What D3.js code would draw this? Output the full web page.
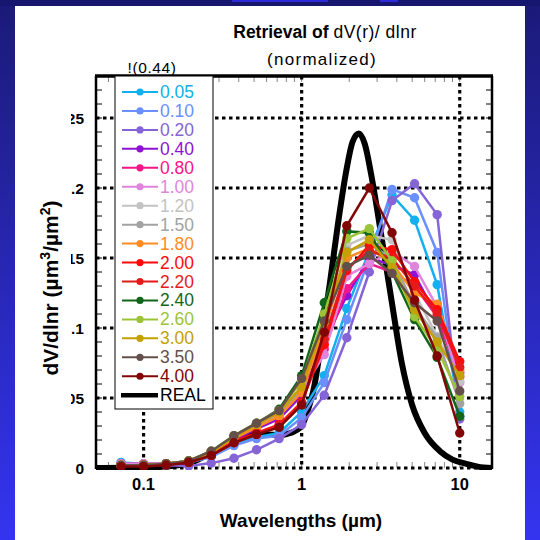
<!DOCTYPE html>
<html><head><meta charset="utf-8">
<script src="https://cdn.jsdelivr.net/npm/d3@7/dist/d3.min.js"></script>
<style>body{margin:0;background:#fff}svg{display:block}</style>
</head><body>
<svg id="chart" width="540" height="540"></svg>
<script>
// ---------- data ----------
const radii = [0.072, 0.1, 0.139, 0.193, 0.268, 0.373, 0.518, 0.72, 1, 1.39, 1.93, 2.68, 3.73, 5.18, 7.2, 10];
const seriesLabels = ["0.05","0.10","0.20","0.40","0.80","1.00","1.20","1.50","1.80","2.00","2.20","2.40","2.60","3.00","3.50","4.00"];
const v005 = [0.004,0.003,0.003,0.004,0.008,0.017,0.022,0.025,0.040,0.066,0.114,0.155,0.195,0.177,0.131,0.040];
const v010 = [0.003,0.003,0.003,0.004,0.008,0.016,0.021,0.023,0.036,0.061,0.106,0.150,0.199,0.193,0.154,0.037];
const v020 = [0.002,0.002,0.002,0.0015,0.0035,0.007,0.013,0.021,0.031,0.052,0.093,0.140,0.191,0.203,0.181,0.035];
const v040 = [0.003,0.002,0.003,0.004,0.010,0.020,0.028,0.035,0.052,0.091,0.123,0.150,0.145,0.138,0.108,0.068];
const v080 = [0.003,0.003,0.003,0.005,0.011,0.022,0.031,0.040,0.056,0.085,0.128,0.146,0.140,0.130,0.108,0.065];
const v100 = [0.003,0.003,0.003,0.005,0.011,0.022,0.031,0.039,0.055,0.081,0.137,0.146,0.155,0.144,0.115,0.061];
const v120 = [0.002,0.002,0.003,0.005,0.011,0.022,0.031,0.039,0.058,0.098,0.159,0.166,0.163,0.125,0.094,0.062];
const v150 = [0.002,0.002,0.003,0.005,0.011,0.022,0.031,0.039,0.057,0.097,0.155,0.160,0.150,0.115,0.093,0.046];
const v180 = [0.002,0.002,0.003,0.005,0.011,0.021,0.029,0.037,0.054,0.100,0.150,0.157,0.146,0.125,0.117,0.070];
const v200 = [0.002,0.002,0.003,0.004,0.009,0.019,0.025,0.031,0.047,0.088,0.141,0.159,0.156,0.133,0.113,0.076];
const v220 = [0.002,0.002,0.003,0.004,0.009,0.018,0.024,0.030,0.046,0.092,0.143,0.155,0.150,0.130,0.110,0.072];
const v240 = [0.002,0.002,0.003,0.005,0.012,0.023,0.032,0.042,0.066,0.118,0.169,0.168,0.140,0.106,0.079,0.037];
const v260 = [0.002,0.002,0.003,0.005,0.012,0.023,0.032,0.041,0.062,0.110,0.164,0.171,0.148,0.108,0.085,0.051];
const v300 = [0.002,0.002,0.003,0.005,0.011,0.022,0.031,0.040,0.058,0.104,0.154,0.163,0.143,0.113,0.090,0.066];
const v350 = [0.002,0.002,0.003,0.005,0.012,0.023,0.032,0.041,0.064,0.105,0.144,0.152,0.139,0.118,0.105,0.055];
const v400 = [0.001,0.001,0.002,0.004,0.009,0.018,0.024,0.029,0.045,0.097,0.173,0.200,0.168,0.120,0.080,0.025];
const seriesValues = [v005,v010,v020,v040,v080,v100,v120,v150,v180,v200,v220,v240,v260,v300,v350,v400];

const realX = [0.05,0.1,0.15,0.2,0.27,0.37,0.5,0.6,0.72,0.85,1.0,1.1,1.2,1.35,1.5,1.7,1.9,2.1,2.3,2.5,2.8,3.2,3.7,4.3,5.0,6.0,7.5,9,11,13,16];
const realY = [0.0,0.0005,0.0015,0.004,0.011,0.019,0.024,0.024,0.0235,0.025,0.030,0.042,0.058,0.095,0.130,0.175,0.210,0.233,0.239,0.232,0.205,0.165,0.120,0.075,0.045,0.025,0.012,0.006,0.003,0.001,0.0];

const yTicks = [0, 0.05, 0.1, 0.15, 0.2, 0.25];
const yTickLabels = ["0","0.05","0.1","0.15","0.2","0.25"];
const xTicks = [0.1, 1, 10];
const xTickLabels = ["0.1","1","10"];

// ---------- styles ----------
const palette = ["#12b0ee","#6a90ff","#8464d6","#8f12d4","#f5158a","#e085de","#c3c3c3","#a3a3a3","#ff8c22","#ff0a0a","#e51a1a","#12661a","#9cc437","#c4a000","#654f4a","#820606"];
const FONT = "Liberation Sans, Arial, sans-serif";

const svg = d3.select("#chart");
const W = 540, H = 540;
const L = 96, R = 492, T = 76, B = 468;

// background frame
const defs = svg.append("defs");
const g1 = defs.append("linearGradient").attr("id","bg").attr("x1",0).attr("y1",0).attr("x2",0).attr("y2",1);
g1.append("stop").attr("offset","0%").attr("stop-color","#1b1a78");
g1.append("stop").attr("offset","100%").attr("stop-color","#3434f0");
svg.append("rect").attr("width",W).attr("height",H).attr("fill","url(#bg)");
svg.append("rect").attr("x",0).attr("y",0).attr("width",W).attr("height",6).attr("fill","#17166e");
svg.append("rect").attr("x",232).attr("y",0).attr("width",96).attr("height",2).attr("fill","#2a2ad8");
svg.append("rect").attr("x",380).attr("y",0).attr("width",18).attr("height",2).attr("fill","#2a2ad8");
svg.append("rect").attr("x",15).attr("y",6).attr("width",510).attr("height",H-6).attr("fill","#fff");

const x = d3.scaleLog().domain([0.05, 16]).range([L, R]);
const y = d3.scaleLinear().domain([0, 0.28]).range([B, T]);

defs.append("clipPath").attr("id","plotclip").append("rect").attr("x",L).attr("y",T).attr("width",R-L).attr("height",B-T+2);
defs.append("clipPath").attr("id","ylabclip").append("rect").attr("x",71).attr("y",0).attr("width",40).attr("height",540);

// minor ticks
const minorY = d3.range(0.01, 0.28, 0.01);
const tk = svg.append("g").attr("stroke","#000").attr("stroke-width",1);
minorY.forEach(v => {
  tk.append("line").attr("x1",L).attr("x2",L+6).attr("y1",y(v)).attr("y2",y(v));
  tk.append("line").attr("x1",R-6).attr("x2",R).attr("y1",y(v)).attr("y2",y(v));
});
const minorX = [];
[0.01,0.1,1,10].forEach(d => { for (let k=1;k<10;k++){ const v=d*k; if (v>0.05 && v<16) minorX.push(v);} });
minorX.forEach(v => {
  tk.append("line").attr("x1",x(v)).attr("x2",x(v)).attr("y1",T).attr("y2",T+6).attr("stroke","#888");
  tk.append("line").attr("x1",x(v)).attr("x2",x(v)).attr("y1",B).attr("y2",B-6).attr("stroke","#888");
});

// dotted grid
const grid = svg.append("g").attr("stroke","#000").attr("stroke-width",3.2).attr("stroke-dasharray","3.5,3.5");
yTicks.forEach(v => grid.append("line").attr("x1",L).attr("x2",R).attr("y1",y(v)).attr("y2",y(v)));
xTicks.forEach(v => grid.append("line").attr("x1",x(v)).attr("x2",x(v)).attr("y1",T).attr("y2",B));

// frame
svg.append("line").attr("x1",L).attr("x2",L).attr("y1",T).attr("y2",B+1).attr("stroke","#000").attr("stroke-width",2.5);
svg.append("line").attr("x1",R).attr("x2",R).attr("y1",T).attr("y2",B+1).attr("stroke","#000").attr("stroke-width",2.5);
svg.append("line").attr("x1",L-1).attr("x2",R+1).attr("y1",T).attr("y2",T).attr("stroke","#000").attr("stroke-width",3.5);

// tick labels
const yl = svg.append("g").attr("clip-path","url(#ylabclip)");
yTicks.forEach((v,i) => yl.append("text").attr("x",84).attr("y",y(v)+5.5).attr("text-anchor","end")
  .attr("font-family",FONT).attr("font-weight","bold").attr("font-size",15.5).text(yTickLabels[i]));
xTicks.forEach((v,i) => svg.append("text").attr("x",x(v)).attr("y",490).attr("text-anchor","middle")
  .attr("font-family",FONT).attr("font-weight","bold").attr("font-size",16.5).text(xTickLabels[i]));

// data
const plot = svg.append("g").attr("clip-path","url(#plotclip)");
const realLine = d3.line().x((d,i)=>x(realX[i])).y(d=>y(d)).curve(d3.curveMonotoneX);
plot.append("path").attr("d", realLine(realY)).attr("fill","none").attr("stroke","#000").attr("stroke-width",6).attr("stroke-linejoin","round");

const line = d3.line().x((d,i)=>x(radii[i])).y(d=>y(d));
seriesValues.forEach((vals,si) => {
  const gs = plot.append("g");
  gs.append("path").attr("d", line(vals)).attr("fill","none").attr("stroke",palette[si]).attr("stroke-width",2.5);
  gs.selectAll("circle").data(vals).join("circle").attr("cx",(d,i)=>x(radii[i])).attr("cy",d=>y(d)).attr("r",4.7).attr("fill",palette[si]);
});

// legend
const lg = svg.append("g");
lg.append("rect").attr("x",115).attr("y",T).attr("width",98).attr("height",333).attr("fill","#fff").attr("stroke","#000").attr("stroke-width",1);
seriesLabels.forEach((s,i) => {
  const yy = 92 + i*18.95;
  lg.append("line").attr("x1",122).attr("x2",158).attr("y1",yy).attr("y2",yy).attr("stroke",palette[i]).attr("stroke-width",2);
  lg.append("circle").attr("cx",140).attr("cy",yy).attr("r",3.6).attr("fill",palette[i]);
  lg.append("text").attr("x",160).attr("y",yy+6).attr("font-family",FONT).attr("font-size",17.5).attr("fill",palette[i]).text(s);
});
const yr = 92 + 16*18.95;
lg.append("line").attr("x1",121).attr("x2",158).attr("y1",yr).attr("y2",yr).attr("stroke","#000").attr("stroke-width",4.5);
lg.append("text").attr("x",160).attr("y",yr+6).attr("font-family",FONT).attr("font-size",17.5).attr("fill","#000").text("REAL");

// titles
const t1 = svg.append("text").attr("x",325).attr("y",38).attr("text-anchor","middle").attr("font-family",FONT).attr("font-size",17.5);
t1.append("tspan").attr("font-weight","bold").text("Retrieval of ");
t1.append("tspan").attr("letter-spacing",0.5).text("dV(r)/ dlnr");
svg.append("text").attr("x",322).attr("y",65).attr("text-anchor","middle").attr("font-family",FONT).attr("font-size",17).attr("letter-spacing",1.3).text("(normalized)");
svg.append("text").attr("x",152).attr("y",73).attr("text-anchor","middle").attr("font-family",FONT).attr("font-size",15.5).attr("letter-spacing",0.6).text("!(0.44)");

svg.append("text").attr("x",301).attr("y",527).attr("text-anchor","middle").attr("font-family",FONT).attr("font-weight","bold").attr("font-size",19).text("Wavelengths (\u00b5m)");

const ylab = svg.append("text").attr("transform","translate(58,288) rotate(-90)").attr("text-anchor","middle")
  .attr("font-family",FONT).attr("font-weight","bold").attr("font-size",21);
ylab.append("tspan").text("dV/dlnr (\u00b5m");
ylab.append("tspan").attr("font-size",14).attr("dy",-8).text("3");
ylab.append("tspan").attr("dy",8).text("/\u00b5m");
ylab.append("tspan").attr("font-size",14).attr("dy",-8).text("2");
ylab.append("tspan").attr("dy",8).text(")");
</script>
</body></html>
